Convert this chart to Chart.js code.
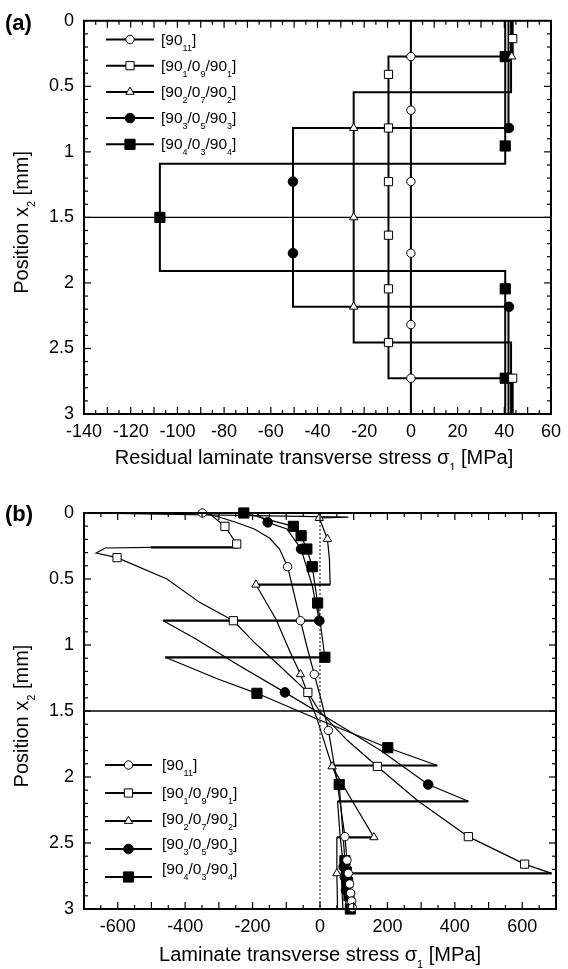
<!DOCTYPE html>
<html>
<head>
<meta charset="utf-8">
<script src="https://cdn.jsdelivr.net/npm/chart.js@4.4.0/dist/chart.umd.min.js"></script>
<style>
  html, body { margin: 0; padding: 0; background: #fff; }
  canvas { position: absolute; left: 0; }
  #chartA { top: 0; }
  #chartB { top: 470px; }
</style>
</head>
<body>
<canvas id="chartA" width="568" height="470"></canvas>
<canvas id="chartB" width="568" height="499"></canvas>
<script>
const FONT = '"Liberation Sans", Arial, Helvetica, sans-serif';

// === legend labels ({..} = subscript) ===
const seriesLabels = ['[90{11}]', '[90{1}/0{9}/90{1}]', '[90{2}/0{7}/90{2}]', '[90{3}/0{5}/90{3}]', '[90{4}/0{3}/90{4}]'];

// === tick labels ===
const aXTicks = [-140, -120, -100, -80, -60, -40, -20, 0, 20, 40, 60];
const bXTicks = [-600, -400, -200, 0, 200, 400, 600];
const yTicks = [0, 0.5, 1, 1.5, 2, 2.5, 3];

// === panel (a) : residual stress, points are [sigma (MPa), x2 (mm)] ===
const aLine1 = [[0, 0], [0, 3]];
const aMark1 = [[0, 0.273], [0, 0.682], [0, 1.227], [0, 1.773], [0, 2.318], [0, 2.727]];
const aLine2 = [[43.6, 0], [43.6, 0.273], [-9.6, 0.273], [-9.6, 2.727], [43.6, 2.727], [43.6, 3]];
const aMark2 = [[43.6, 0.136], [-9.6, 0.409], [-9.6, 0.818], [-9.6, 1.227], [-9.6, 1.636], [-9.6, 2.045], [-9.6, 2.455], [43.6, 2.727]];
const aLine3 = [[42.9, 0], [42.9, 0.545], [-24.5, 0.545], [-24.5, 2.455], [42.9, 2.455], [42.9, 3]];
const aMark3 = [[43.2, 0.273], [-24.5, 0.818], [-24.5, 1.5], [-24.5, 2.182], [43.2, 2.727]];
const aLine4 = [[41.8, 0], [41.8, 0.818], [-50.5, 0.818], [-50.5, 2.182], [41.8, 2.182], [41.8, 3]];
const aMark4 = [[42, 0.818], [-50.5, 1.227], [-50.5, 1.773], [42, 2.182]];
const aLine5 = [[40.4, 0], [40.4, 1.091], [-107.5, 1.091], [-107.5, 1.909], [40.4, 1.909], [40.4, 3]];
const aMark5 = [[40.4, 0.273], [40.4, 0.955], [-107.5, 1.5], [40.4, 2.045], [40.4, 2.727]];

// === panel (b) : laminate transverse stress ===
const bLine1 = [[-349, 0], [-300, 0.03], [-250, 0.07], [-195, 0.121], [-150, 0.19], [-120, 0.273], [-96, 0.407], [-78, 0.6], [-58, 0.816], [-40, 1.0], [-17, 1.222], [5, 1.43], [25, 1.647], [45, 1.95], [60, 2.2], [74, 2.452], [80, 2.63], [85, 2.75], [90, 2.87], [95, 3]];
const bMark1 = [[-349, 0], [-96, 0.407], [-58, 0.816], [-17, 1.222], [25, 1.647], [74, 2.452], [80, 2.63], [84, 2.73], [88, 2.81], [91, 2.88], [94, 2.94], [96, 2.99]];
const bLine2 = [[-330, 0], [-282, 0.101], [-247, 0.235], [-245, 0.26], [-502, 0.26], [-637, 0.265], [-664, 0.303], [-602, 0.338], [-454, 0.5], [-357, 0.677], [-257, 0.816], [-195, 0.98], [-120, 1.157], [-36, 1.359], [-2, 1.5], [80, 1.72], [170, 1.92], [289, 2.178], [440, 2.452], [607, 2.66], [687, 2.73], [63, 2.73], [65, 2.85], [68, 3]];
const bMark2 = [[-282, 0.101], [-247, 0.235], [-602, 0.338], [-257, 0.816], [-36, 1.359], [170, 1.92], [440, 2.452], [607, 2.66]];
const bLine3 = [[-700, 0], [84, 0.032], [-2, 0.038], [22, 0.197], [28, 0.35], [30, 0.543], [-190, 0.543], [-131, 0.803], [-88, 1.056], [-58, 1.222], [-10, 1.55], [36, 1.92], [95, 2.178], [160, 2.457], [50, 2.457], [50, 2.73], [52, 3]];
const bMark3 = [[-2, 0.038], [22, 0.197], [-190, 0.543], [-58, 1.222], [36, 1.92], [160, 2.457], [50, 2.73]];
const bLine4 = [[-190, 0], [-155, 0.071], [-98, 0.121], [-56, 0.273], [-23, 0.55], [-2, 0.816], [-465, 0.816], [-368, 0.955], [-239, 1.157], [-104, 1.359], [20, 1.55], [180, 1.8], [321, 2.057], [440, 2.184], [52, 2.184], [60, 2.457], [72, 2.73], [78, 3]];
const bMark4 = [[-155, 0.071], [-56, 0.273], [-2, 0.816], [-104, 1.359], [321, 2.057], [70, 2.68], [74, 2.76], [77, 2.86]];
const bLine5 = [[-226, 0], [-79, 0.101], [-56, 0.172], [-39, 0.273], [-23, 0.407], [-7, 0.682], [14.5, 1.093], [-459, 1.093], [-303, 1.258], [-187, 1.366], [0, 1.57], [201, 1.778], [348, 1.913], [36, 1.913], [57, 2.057], [74, 2.634], [82, 2.8], [90, 3]];
const bMark5 = [[-226, 0], [-79, 0.101], [-56, 0.172], [-39, 0.273], [-23, 0.407], [-7, 0.682], [14.5, 1.093], [-187, 1.366], [201, 1.778], [57, 2.057], [74, 2.634], [78, 2.72], [82, 2.8], [86, 2.9], [90, 3]];

// marker look of the 5 series
const markerStyle = [
  { pointStyle: 'circle', radius: 4.2, fill: '#fff' },
  { pointStyle: 'rect', radius: 5.8, fill: '#fff' },
  { pointStyle: 'triangle', radius: 4.8, fill: '#fff' },
  { pointStyle: 'circle', radius: 4.8, fill: '#000' },
  { pointStyle: 'rect', radius: 7.2, fill: '#000' }
];

// === helpers ===
function toXY(arr) { return arr.map(p => ({ x: p[0], y: p[1] })); }

function buildSets(lines, marks, wCurve, wStep) {
  const sets = [];
  marks.forEach((mk, i) => {
    const st = markerStyle[i];
    sets.push({
      data: toXY(mk), showLine: false, clip: false, order: 0,
      pointStyle: st.pointStyle, pointRadius: st.radius, pointHoverRadius: st.radius,
      pointBackgroundColor: st.fill, pointBorderColor: '#000', pointBorderWidth: 1
    });
  });
  lines.forEach(ln => {
    sets.push({
      data: toXY(ln), showLine: true, pointRadius: 0, order: 1,
      borderColor: '#000', borderWidth: wCurve, tension: 0,
      segment: { borderWidth: c => (c.p0.parsed.y === c.p1.parsed.y ? wStep : wCurve) }
    });
  });
  return sets;
}

// text with {subscript} parts
function drawRich(ctx, str, x, y, size, subSize, subDy, align) {
  const parts = [];
  str.replace(/([^{}]+)|\{([^}]*)\}/g, (m, a, b) => { parts.push(a !== undefined ? [a, 0] : [b, 1]); return m; });
  let w = 0;
  parts.forEach(p => { ctx.font = (p[1] ? subSize : size) + 'px ' + FONT; w += ctx.measureText(p[0]).width; });
  let cx = align === 'center' ? x - w / 2 : x;
  ctx.textAlign = 'left';
  ctx.textBaseline = 'alphabetic';
  parts.forEach(p => {
    ctx.font = (p[1] ? subSize : size) + 'px ' + FONT;
    ctx.fillText(p[0], cx, y + (p[1] ? subDy : 0));
    cx += ctx.measureText(p[0]).width;
  });
}

function seg(ctx, x1, y1, x2, y2) { ctx.beginPath(); ctx.moveTo(x1, y1); ctx.lineTo(x2, y2); ctx.stroke(); }

// === 1. frame, inward ticks, reference lines, titles, legend ===
const framePlugin = {
  id: 'frame',
  beforeDatasetsDraw(chart, args, o) {
    const { ctx, chartArea: ca, scales: { x, y } } = chart;
    ctx.save();
    ctx.strokeStyle = '#000';
    ctx.lineWidth = o.midWidth;
    const ym = y.getPixelForValue(1.5);
    seg(ctx, ca.left, ym, ca.right, ym);
    if (o.zeroLine) {
      ctx.lineWidth = 1;
      ctx.setLineDash([2, 2]);
      const x0 = x.getPixelForValue(0);
      seg(ctx, x0, ca.top, x0, ca.bottom);
      ctx.setLineDash([]);
    }
    ctx.restore();
  },
  afterDraw(chart, args, o) {
    const { ctx, chartArea: ca, scales: { x, y } } = chart;
    ctx.save();
    ctx.strokeStyle = '#000';
    ctx.fillStyle = '#000';
    // ticks
    ctx.lineWidth = 1.2;
    const nx = Math.round((x.max - x.min) / o.xMinor);
    for (let k = 1; k < nx; k++) {
      const v = x.min + k * o.xMinor;
      const len = Math.abs(v / o.xMajor - Math.round(v / o.xMajor)) < 1e-6 ? 7 : 4;
      const px = x.getPixelForValue(v);
      seg(ctx, px, ca.bottom, px, ca.bottom - len);
      seg(ctx, px, ca.top, px, ca.top + len);
    }
    const ny = Math.round((y.max - y.min) / 0.1);
    for (let k = 1; k < ny; k++) {
      const len = k % 5 === 0 ? 7 : 4;
      const py = y.getPixelForValue(y.min + k * 0.1);
      seg(ctx, ca.left, py, ca.left + len, py);
      seg(ctx, ca.right, py, ca.right - len, py);
    }
    // box
    ctx.lineWidth = 2;
    ctx.strokeRect(ca.left, ca.top, ca.right - ca.left, ca.bottom - ca.top);

    // axis titles
    drawRich(ctx, o.xTitle, o.xTitleX, o.xTitleY, 20, 11, 7, 'center');
    ctx.save();
    ctx.translate(27.5, (ca.top + ca.bottom) / 2 + 5);
    ctx.rotate(-Math.PI / 2);
    drawRich(ctx, 'Position x{2} [mm]', 0, 0, 20, 11, 7, 'center');
    ctx.restore();

    // panel letter
    ctx.font = 'bold 22px ' + FONT;
    ctx.textAlign = 'left';
    ctx.textBaseline = 'alphabetic';
    ctx.fillText(o.letter, 5, o.letterY);

    // legend
    const L = o.legend;
    seriesLabels.forEach((lab, i) => {
      const ly = L.y0 + i * L.dy;
      ctx.lineWidth = 2;
      seg(ctx, L.x0, ly, L.x1, ly);
      const st = markerStyle[i];
      ctx.fillStyle = st.fill;
      ctx.strokeStyle = '#000';
      ctx.lineWidth = 1;
      Chart.helpers.drawPoint(ctx, { pointStyle: st.pointStyle, radius: st.radius, rotation: 0, borderWidth: 1 }, (L.x0 + L.x1) / 2, ly);
      ctx.fillStyle = '#000';
      drawRich(ctx, lab, L.xt, ly + 5 + L.textDy[i], 15.5, 9, 6, 'left');
    });
    ctx.restore();
  }
};

function xScale(min, max, ticks, h) {
  return {
    type: 'linear', position: 'bottom', min, max,
    grid: { display: false, drawTicks: false }, border: { display: false },
    ticks: { color: '#000', font: { family: FONT, size: 18 }, padding: 7, maxRotation: 0, autoSkip: false, callback: v => String(v) },
    afterBuildTicks: s => { s.ticks = ticks.map(v => ({ value: v })); },
    afterFit: s => { s.height = h; }
  };
}
function yScale() {
  return {
    type: 'linear', reverse: true, min: 0, max: 3,
    grid: { display: false, drawTicks: false }, border: { display: false },
    ticks: { color: '#000', font: { family: FONT, size: 18 }, padding: 10, autoSkip: false, callback: v => String(v) },
    afterBuildTicks: s => { s.ticks = yTicks.map(v => ({ value: v })); },
    afterFit: s => { s.width = 84; }
  };
}

// === 2. Panel (a) ===
new Chart(document.getElementById('chartA'), {
  type: 'scatter',
  data: { datasets: buildSets([aLine1, aLine2, aLine3, aLine4, aLine5], [aMark1, aMark2, aMark3, aMark4, aMark5], 2, 2) },
  options: {
    responsive: false, animation: false, events: [],
    layout: { padding: { left: 0, right: 12, top: 20, bottom: 0 } },
    scales: { x: xScale(-140, 60, aXTicks, 56), y: yScale() },
    plugins: {
      legend: { display: false }, tooltip: { enabled: false },
      frame: {
        xMinor: 5, xMajor: 10, midWidth: 1.2, zeroLine: false,
        xTitle: 'Residual laminate transverse stress \u03c3{1} [MPa]', xTitleX: 314, xTitleY: 464,
        letter: '(a)', letterY: 30,
        legend: { x0: 106, x1: 154, xt: 161, y0: 39.5, dy: 26.2, textDy: [0, 0, 0, 0, 0] }
      }
    }
  },
  plugins: [framePlugin]
});

// === 3. Panel (b) ===
new Chart(document.getElementById('chartB'), {
  type: 'scatter',
  data: { datasets: buildSets([bLine1, bLine2, bLine3, bLine4, bLine5], [bMark1, bMark2, bMark3, bMark4, bMark5], 1.2, 2.2) },
  options: {
    responsive: false, animation: false, events: [],
    layout: { padding: { left: 0, right: 12, top: 43, bottom: 0 } },
    scales: { x: xScale(-700, 700, bXTicks, 60), y: yScale() },
    plugins: {
      legend: { display: false }, tooltip: { enabled: false },
      frame: {
        xMinor: 50, xMajor: 100, midWidth: 1.3, zeroLine: true,
        xTitle: 'Laminate transverse stress \u03c3{1} [MPa]', xTitleX: 320, xTitleY: 491,
        letter: '(b)', letterY: 51,
        legend: { x0: 105, x1: 152, xt: 162, y0: 295, dy: 28, textDy: [0, 0, -2, -5, -8] }
      }
    }
  },
  plugins: [framePlugin]
});
</script>
</body>
</html>
